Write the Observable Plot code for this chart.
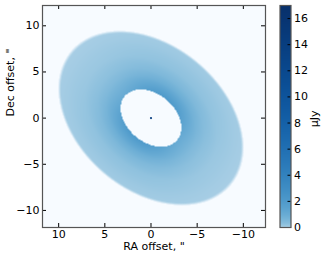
<!DOCTYPE html>
<html><head><meta charset="utf-8">
<script src="https://cdn.jsdelivr.net/npm/d3@7"></script>
<script src="https://cdn.jsdelivr.net/npm/@observablehq/plot@0.6"></script>
<style>
body{margin:0;background:#fff;}
#wrap{position:relative;width:324px;height:256px;}
#wrap svg{position:absolute;top:0;}
</style></head><body><div id="wrap"></div>
<script>
// axes
const raTicks = [10, 5, 0, -5, -10];
const decTicks = [-10, -5, 0, 5, 10];
const raDomain = [11.75, -12.4];
const decDomain = [-11.85, 12.2];
const cbTicks = [0, 2, 4, 6, 8, 10, 12, 14, 16];
const cbDomain = [0, 17];
// ring geometry (arcsec, degrees)
const ringInner = 3.7;
const ringOuter = 11.3;
const edgeSoft = 0.35;
const cosInc = 0.7;
const posAngle = 40;
// radial brightness profile (μJy)
const profileR = [3.7, 4.5, 5.5, 6.5, 8, 10, 11.3];
const profileV = [1.3, 0.95, 0.55, 0.32, 0.15, 0.07, 0.04];
const majorFactor = 0.8, minorFactor = 1.6;
const star = [{ra: 0, dec: 0, flux: 14}];

const th = posAngle * Math.PI / 180;
const prof = d3.scaleLinear(profileR, profileV).clamp(true);
function radius(x, y) {
  const s = x * Math.cos(th) + y * Math.sin(th);
  const t = (-x * Math.sin(th) + y * Math.cos(th)) / cosInc;
  return [Math.hypot(s, t), t];
}
function flux(x, y) {
  const [r, t] = radius(x, y);
  if (r < ringInner || r > ringOuter) return NaN;
  const sin2 = t * t / (r * r);
  return prof(r) * (majorFactor + (minorFactor - majorFactor) * sin2);
}
function opacity(x, y) {
  const [r] = radius(x, y);
  if (r < ringInner || r > ringOuter) return 0;
  return Math.min(1, (ringOuter - r) / edgeSoft + 0.15);
}

const colorScale = {type: "pow", exponent: 0.4, domain: cbDomain,
  interpolate: t => d3.interpolateBlues(0.28 + 0.72 * t)};
const font = {fontFamily: "DejaVu Sans", fontSize: "11px", color: "#000", background: "transparent", overflow: "visible"};
const frameStroke = "#555";

const W = 270, H = 256, mL = 42, mR = 5, mT = 5, mB = 29;
const pw = W - mL - mR, ph = H - mT - mB;

const main = Plot.plot({
  width: W, height: H, marginLeft: mL, marginRight: mR, marginTop: mT, marginBottom: mB,
  style: font,
  x: {domain: raDomain},
  y: {domain: decDomain},
  color: colorScale,
  marks: [
    Plot.frame({fill: "#f7fbff"}),
    Plot.raster({fill: flux, fillOpacity: opacity, x1: raDomain[0], x2: raDomain[1], y1: decDomain[0], y2: decDomain[1]}),
    Plot.dot(star, {x: "ra", y: "dec", fill: "flux", r: 1.1}),
    Plot.ruleX(raTicks, {insetTop: ph - 4, stroke: "#000"}),
    Plot.ruleX(raTicks, {insetBottom: ph - 4, stroke: "#000"}),
    Plot.ruleY(decTicks, {insetRight: pw - 4, stroke: "#000"}),
    Plot.ruleY(decTicks, {insetLeft: pw - 4, stroke: "#000"}),
    Plot.frame({stroke: frameStroke, strokeWidth: 1.2}),
    Plot.axisX(raTicks, {tickSize: 0, tickPadding: 3, fontSize: 11, label: null}),
    Plot.axisY(decTicks, {tickSize: 0, tickPadding: 3, fontSize: 11, label: null}),
    Plot.text(['RA offset, "'], {frameAnchor: "bottom", dy: 19, fontSize: 11, lineAnchor: "middle"}),
    Plot.text(['Dec offset, "'], {frameAnchor: "left", dx: -32, rotate: -90, fontSize: 11, lineAnchor: "middle"})
  ]
});

const CW = 54, cL = 9.5, cR = 33.5;
const cbw = CW - cL - cR;
const cbar = Plot.plot({
  width: CW, height: H, marginLeft: cL, marginRight: cR, marginTop: mT, marginBottom: mB,
  style: font,
  x: {domain: [0, 1], axis: null},
  y: {domain: cbDomain, axis: null},
  color: colorScale,
  marks: [
    Plot.raster({fill: (x, y) => y, x1: 0, x2: 1, y1: cbDomain[0], y2: cbDomain[1]}),
    Plot.ruleY(cbTicks, {insetLeft: cbw - 3, stroke: "#000"}),
    Plot.frame({stroke: frameStroke, strokeWidth: 1.2}),
    Plot.axisY(cbTicks, {anchor: "right", tickSize: 0, tickPadding: 3, fontSize: 11, label: null}),
    Plot.text(["μJy"], {frameAnchor: "right", dx: 23, dy: -6, rotate: -90, fontSize: 11, lineAnchor: "middle"})
  ]
});

const wrap = document.getElementById("wrap");
main.style.left = "0px";
cbar.style.left = W + "px";
wrap.appendChild(main);
wrap.appendChild(cbar);
</script></body></html>
